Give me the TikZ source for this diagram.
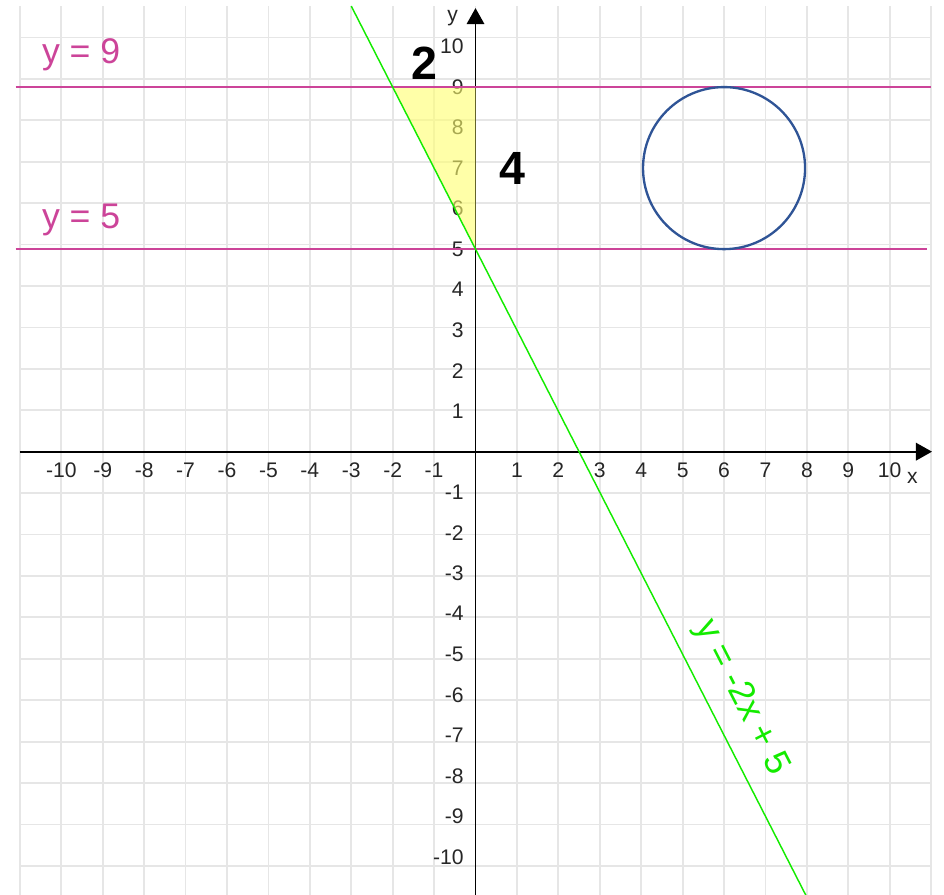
\documentclass[tikz,border=0pt]{standalone}
\usepackage{fontspec}
\setmainfont{Liberation Sans}
\usepackage{tikz}
\usetikzlibrary{arrows.meta,calc}

\definecolor{gridgray}{RGB}{230,230,230}
\definecolor{linemagenta}{RGB}{204,68,153}
\definecolor{linegreen}{RGB}{20,235,0}
\definecolor{circleblue}{RGB}{47,84,150}
\definecolor{shadeyellow}{RGB}{255,255,110}

\begin{document}
\begin{tikzpicture}[x=1cm,y=0.978cm,
  ticklabel/.style={text=black!85,font=\fontsize{14.5}{17}\selectfont,inner sep=0pt},
  linelabel/.style={text=linemagenta,font=\fontsize{24.5}{28}\selectfont,inner sep=0pt},
  sidelabel/.style={font=\fontsize{32}{36}\selectfont\bfseries,inner sep=0pt}]
\useasboundingbox (-11.48,-10.94) rectangle (11.31,11.15);
\coordinate[] (O) at (0,0);
\coordinate[] (A) at (-2,9);
\coordinate[] (B) at (0,9);
\coordinate[] (C) at (0,5);
\coordinate[] (M) at (6,7);
\coordinate[] (P) at (-3,11);
\coordinate[] (Q) at (8,-11);
\coordinate[] (XL) at (-11,0);
\coordinate[] (XR) at (11.02,0);
\coordinate[] (YB) at (0,-11.2);
\coordinate[] (YT) at (0,10.95);
\coordinate[] (NL) at (-11.1,9);
\coordinate[] (NR) at (11,9);
\coordinate[] (FL) at (-11.1,5);
\coordinate[] (FR) at (10.9,5);

\draw [gridgray,line width=1.2pt] (-11,-11) grid (11,11);
\draw [line width=1.3pt,-{Triangle[length=11pt,width=12pt]}] (XL) -- (XR);
\draw [line width=1.3pt,-{Triangle[length=11pt,width=12pt]}] (YB) -- (YT);
\foreach \i in {-10,...,-1,1,2,...,10}
	\node[ticklabel] (x\i) at (\i,-0.46) {\i};
\foreach \i in {-10,...,-1,1,2,...,10}
	\node[ticklabel,anchor=east] (y\i) at (-0.28,\i) {\i};
\node[ticklabel] (xname) at (10.55,-0.65) {x};
\node[ticklabel] (yname) at (-0.55,10.7) {y};

\fill [shadeyellow,opacity=0.6] (A) -- (B) -- (C) -- cycle;
\draw [line width=0.9pt,linemagenta] (NL) -- (NR);
\draw [line width=0.9pt,linemagenta] (FL) -- (FR);
\draw [line width=1pt,linegreen] (P) -- (Q);
\draw [line width=1.6pt,circleblue] (M) circle (1.956cm);

\node[linelabel] (lab9) at (-9.52,9.8) {y = 9};
\node[linelabel] (lab5) at (-9.52,5.72) {y = 5};
\node[linelabel,text=linegreen,rotate=-62.9] (labline) at (6.42,-6.08) {y = -2x + 5};
\node[sidelabel] (labtwo) at (-1.23,9.6) {2};
\node[sidelabel] (labfour) at (0.88,7.0) {4};
\end{tikzpicture}
\end{document}
